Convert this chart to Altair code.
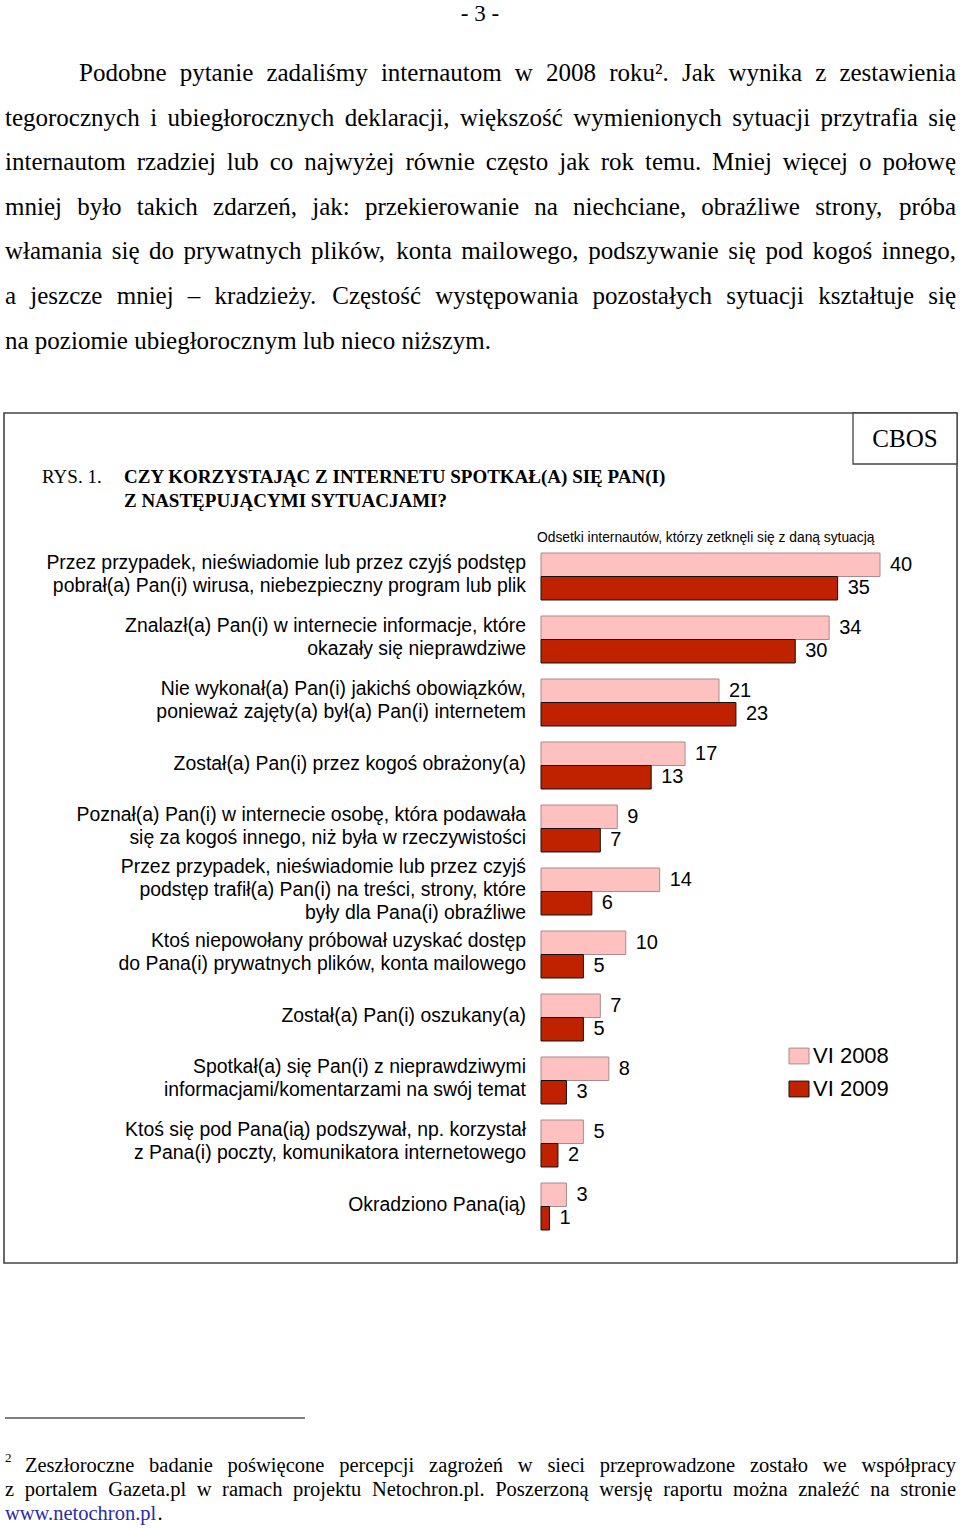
import altair as alt
import pandas as pd

# ---------------- data ----------------
categories = [
    "Przez przypadek, nieświadomie lub przez czyjś podstęp\npobrał(a) Pan(i) wirusa, niebezpieczny program lub plik",
    "Znalazł(a) Pan(i) w internecie informacje, które\nokazały się nieprawdziwe",
    "Nie wykonał(a) Pan(i) jakichś obowiązków,\nponieważ zajęty(a) był(a) Pan(i) internetem",
    "Został(a) Pan(i) przez kogoś obrażony(a)",
    "Poznał(a) Pan(i) w internecie osobę, która podawała\nsię za kogoś innego, niż była w rzeczywistości",
    "Przez przypadek, nieświadomie lub przez czyjś\npodstęp trafił(a) Pan(i) na treści, strony, które\nbyły dla Pana(i) obraźliwe",
    "Ktoś niepowołany próbował uzyskać dostęp\ndo Pana(i) prywatnych plików, konta mailowego",
    "Został(a) Pan(i) oszukany(a)",
    "Spotkał(a) się Pan(i) z nieprawdziwymi\ninformacjami/komentarzami na swój temat",
    "Ktoś się pod Pana(ią) podszywał, np. korzystał\nz Pana(i) poczty, komunikatora internetowego",
    "Okradziono Pana(ią)",
]
values_2008 = [40, 34, 21, 17, 9, 14, 10, 7, 8, 5, 3]
values_2009 = [35, 30, 23, 13, 7, 6, 5, 5, 3, 2, 1]
series = ["VI 2008", "VI 2009"]

page_number = "- 3 -"
paragraph = [
    "Podobne pytanie zadaliśmy internautom w 2008 roku². Jak wynika z zestawienia",
    "tegorocznych i ubiegłorocznych deklaracji, większość wymienionych sytuacji przytrafia się",
    "internautom rzadziej lub co najwyżej równie często jak rok temu. Mniej więcej o połowę",
    "mniej było takich zdarzeń, jak: przekierowanie na niechciane, obraźliwe strony, próba",
    "włamania się do prywatnych plików, konta mailowego, podszywanie się pod kogoś innego,",
    "a jeszcze mniej – kradzieży. Częstość występowania pozostałych sytuacji kształtuje się",
    "na poziomie ubiegłorocznym lub nieco niższym.",
]
fig_label = "RYS. 1."
fig_title = ["CZY KORZYSTAJĄC Z INTERNETU SPOTKAŁ(A) SIĘ PAN(I)", "Z NASTĘPUJĄCYMI SYTUACJAMI?"]
source_label = "CBOS"
subtitle = "Odsetki internautów, którzy zetknęli się  z daną sytuacją"
footnote_mark = "2"
footnote = [
    "Zeszłoroczne badanie poświęcone percepcji zagrożeń w sieci przeprowadzone zostało we współpracy",
    "z portalem Gazeta.pl w ramach projektu Netochron.pl. Poszerzoną wersję raportu można znaleźć na stronie",
]
footnote_link = "www.netochron.pl"

# ---------------- text layout helpers (Times metrics, 1/1000 em) ----------------
W = {' ': 250, '!': 333, '(': 333, ')': 333, ',': 250, '-': 333, '.': 250, '/': 278, ':': 278,
     ';': 278, '?': 444, '–': 500, '²': 300}
for ch in '0123456789':
    W[ch] = 500
W.update(dict(A=722, B=667, C=667, D=722, E=611, F=556, G=722, H=722, I=333, J=389, K=722, L=611,
              M=889, N=722, O=722, P=556, Q=722, R=667, S=556, T=611, U=722, V=722, W=944, X=722,
              Y=722, Z=611))
W.update(dict(a=444, b=500, c=444, d=500, e=444, f=333, g=500, h=500, i=278, j=278, k=500, l=278,
              m=778, n=500, o=500, p=500, q=500, r=333, s=389, t=278, u=500, v=500, w=722, x=500,
              y=500, z=444))
W.update({'ą': 444, 'ę': 444, 'ć': 444, 'ł': 278, 'ń': 500, 'ó': 500, 'ś': 389, 'ź': 444, 'ż': 444,
          'Ż': 611, 'Ł': 611, 'Ś': 556})


def tw(s, size):
    return sum(W.get(c, 500) for c in s) / 1000.0 * size


def justify(line, left, right, base, size, just=True):
    words = line.split(' ')
    rows = []
    if not just or len(words) == 1:
        return [dict(t=line, x=left, y=base, a='left')]
    widths = [tw(w, size) for w in words]
    gap = (right - left - sum(widths)) / (len(words) - 1)
    x = left
    for i, (w, wd) in enumerate(zip(words, widths)):
        if i == len(words) - 1:
            rows.append(dict(t=w, x=right, y=base, a='right'))
        else:
            rows.append(dict(t=w, x=x, y=base, a='left'))
        x += wd + gap
    return rows


PF = 25
rows = []
for i, line in enumerate(paragraph):
    left = 79 if i == 0 else 5
    rows += justify(line, left, 956, 81 + 44.6 * i, PF, just=(i < len(paragraph) - 1))
para_df = pd.DataFrame(rows)

FF = 20.5
frows = []
frows += justify(footnote[0], 25, 956, 1472, FF)
frows += justify(footnote[1], 5, 956, 1496, FF)
foot_df = pd.DataFrame(frows)
link_x = 5 + tw(footnote_link, FF)

SERIF = "Liberation Serif"
SANS = "Liberation Sans"


def text_layer(df, align, size, color="black", weight="normal", font=SERIF):
    d = df[df['a'] == align]
    return alt.Chart(d).mark_text(align=align, baseline='alphabetic', font=font, fontSize=size,
                                  color=color, fontWeight=weight).encode(
        x=alt.X('x:Q', scale=None), y=alt.Y('y:Q', scale=None), text='t:N')


one = alt.Data(values=[{}])


def label(txt, x, y, size, align='left', weight='normal', font=SERIF, color='black', baseline='alphabetic'):
    return alt.Chart(one).mark_text(text=txt, align=align, baseline=baseline, font=font, fontSize=size,
                                    fontWeight=weight, color=color).encode(x=alt.value(x), y=alt.value(y))


layers = []
layers.append(label(page_number, 480, 21, 23, align='center'))
layers.append(text_layer(para_df, 'left', PF))
layers.append(text_layer(para_df, 'right', PF))

# chart frame + CBOS box
layers.append(alt.Chart(one).mark_rect(fill='white', stroke='#444444', strokeWidth=1.6).encode(
    x=alt.value(4), x2=alt.value(957), y=alt.value(413), y2=alt.value(1263)))
layers.append(alt.Chart(one).mark_rect(fill='white', stroke='#444444', strokeWidth=1.3).encode(
    x=alt.value(853), x2=alt.value(957), y=alt.value(413), y2=alt.value(464)))
layers.append(label(source_label, 905, 447, 25, align='center'))
layers.append(label(fig_label, 42, 483, 19))
layers.append(label(fig_title[0], 124, 483, 19, weight='bold'))
layers.append(label(fig_title[1], 124, 507, 19, weight='bold'))
layers.append(label(subtitle, 537, 538, 13.8, font=SANS, baseline='middle'))

# bars
recs = []
for c, a, b in zip(categories, values_2008, values_2009):
    recs.append(dict(cat=c, year=series[0], val=a))
    recs.append(dict(cat=c, year=series[1], val=b))
bars_df = pd.DataFrame(recs)

yenc = alt.Y('cat:N', sort=categories, axis=None,
             scale=alt.Scale(range=[545, 1238], paddingInner=0.254, paddingOuter=0.127))
yoff = alt.YOffset('year:N', sort=series, scale=alt.Scale(paddingInner=0, paddingOuter=0))
xenc = alt.X('val:Q', axis=None, scale=alt.Scale(domain=[0, 40], range=[541, 880]))

legend = alt.Legend(title=None, orient='none', legendX=788, legendY=1045, padding=0,
                    symbolType='M-1,-0.79H1V0.79H-1Z', symbolSize=400, labelFont=SANS,
                    labelFontSize=22, labelOffset=3, rowPadding=11, symbolStrokeWidth=1,
                    labelColor='black')

bars = alt.Chart(bars_df).mark_bar(strokeWidth=1, opacity=1).encode(
    y=yenc, yOffset=yoff, x=xenc,
    fill=alt.Fill('year:N', sort=series, scale=alt.Scale(domain=series, range=['#FFC0C0', '#C02200']),
                  legend=legend),
    stroke=alt.Stroke('year:N', sort=series, scale=alt.Scale(domain=series, range=['#A88C8C', '#111111']),
                      legend=legend),
)
layers.append(bars)

vals = alt.Chart(bars_df).mark_text(align='left', baseline='middle', dx=10, font=SANS, fontSize=20,
                                    color='black').encode(
    y=yenc, yOffset=yoff, x=xenc, text='val:Q')
layers.append(vals)

# category labels: one layer per number of lines so the block is centred on the bar pair
LH = 23
cats_df = pd.DataFrame({'cat': categories, 'n': [c.count('\n') + 1 for c in categories]})
for n in sorted(cats_df['n'].unique()):
    sub = cats_df[cats_df['n'] == n]
    layers.append(alt.Chart(sub).mark_text(
        align='right', baseline='middle', font=SANS, fontSize=19.4, lineBreak='\n', lineHeight=LH,
        dy=-(n - 1) * LH / 2 - 2, color='black').encode(
        y=yenc, x=alt.value(526), text='cat:N'))

# footnote
layers.append(alt.Chart(one).mark_rule(color='black', strokeWidth=1).encode(
    x=alt.value(5), x2=alt.value(305), y=alt.value(1418)))
layers.append(label(footnote_mark, 5, 1462, 13))
layers.append(text_layer(foot_df, 'left', FF))
layers.append(text_layer(foot_df, 'right', FF))
layers.append(label(footnote_link, 5, 1520, FF, color='#2B2BA8'))
layers.append(label('.', link_x, 1520, FF))

chart = alt.layer(*layers).properties(
    width=960, height=1528, padding=0, autosize=alt.AutoSizeParams(type='none'),
    background='white'
).configure_view(stroke=None)

chart.save("out.html", embed_options={"renderer": "svg", "actions": False})
